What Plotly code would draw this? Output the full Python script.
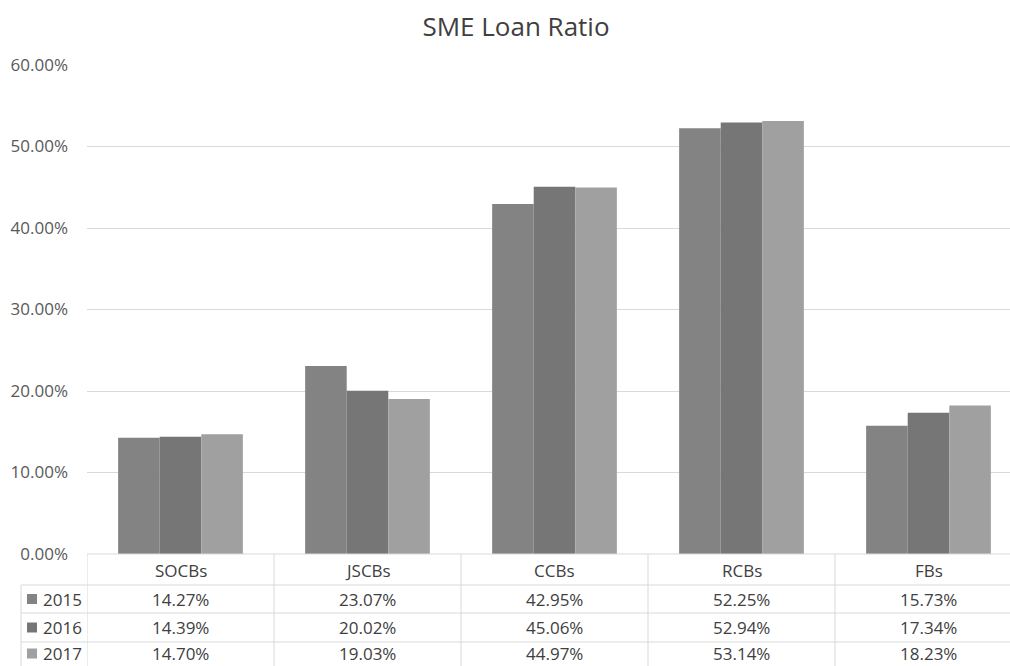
import plotly.graph_objects as go

categories = ["SOCBs", "JSCBs", "CCBs", "RCBs", "FBs"]
years = ["2015", "2016", "2017"]
v2015 = [14.27, 23.07, 42.95, 52.25, 15.73]
v2016 = [14.39, 20.02, 45.06, 52.94, 17.34]
v2017 = [14.70, 19.03, 44.97, 53.14, 18.23]
series = [v2015, v2016, v2017]
colors = ["#838383", "#767676", "#a0a0a0"]

W, H = 1010, 666
PL, PR, PT, PB = 87, 1010, 65, 554   # plot area in pixels
CAT_W = 187.0
FONT = "Open Sans"
TXT = "#404040"
GRID = "#d9d9d9"
FS = 17

def py(p):
    return (PB - p) / (PB - PT)

def px(p):
    return (p - PL) / (PR - PL)

fig = go.Figure()
for name, vals, c in zip(years, series, colors):
    fig.add_trace(go.Bar(x=categories, y=vals, name=name, marker=dict(color=c, line=dict(width=0)),
                         showlegend=False))

span = (PR - PL) / CAT_W
shapes = []
row_y = [585, 613, 642, 671]
shapes.append(dict(type="line", xref="paper", yref="paper", x0=0, x1=1.01, y0=py(PB), y1=py(PB),
                   line=dict(color=GRID, width=1)))
for ry in row_y:
    shapes.append(dict(type="line", xref="paper", yref="paper", x0=px(21), x1=1.01, y0=py(ry), y1=py(ry),
                       line=dict(color=GRID, width=1)))
for k in range(len(categories)):
    shapes.append(dict(type="line", xref="x", yref="paper", x0=-0.5 + k, x1=-0.5 + k, y0=py(PB), y1=py(671),
                       line=dict(color=GRID, width=1)))
shapes.append(dict(type="line", xref="paper", yref="paper", x0=px(21), x1=px(21), y0=py(585), y1=py(671),
                   line=dict(color=GRID, width=1)))

annotations = []
for cat in categories:
    annotations.append(dict(x=cat, xref="x", y=py(570), yref="paper", text=cat, showarrow=False,
                            font=dict(family=FONT, size=FS, color=TXT), xanchor="center", yanchor="middle"))
row_c = [599, 627.5, 653.5]
for yr, vals, c, rc in zip(years, series, colors, row_c):
    shapes.append(dict(type="rect", xref="paper", yref="paper", x0=px(27), x1=px(37), y0=py(rc - 5), y1=py(rc + 5),
                       fillcolor=c, line=dict(width=0)))
    annotations.append(dict(x=px(41), xref="paper", y=py(rc), yref="paper", text=yr, showarrow=False,
                            font=dict(family=FONT, size=FS, color=TXT), xanchor="left", yanchor="middle"))
    for cat, v in zip(categories, vals):
        annotations.append(dict(x=cat, xref="x", y=py(rc), yref="paper", text=f"{v:.2f}%", showarrow=False,
                                font=dict(family=FONT, size=FS, color=TXT), xanchor="center", yanchor="middle"))

fig.update_layout(
    width=W, height=H,
    margin=dict(l=PL, r=W - PR, t=PT, b=H - PB, pad=0),
    paper_bgcolor="white", plot_bgcolor="white",
    barmode="group", bargap=0.333, bargroupgap=0,
    title=dict(text="SME Loan Ratio", x=516 / W, xref="container", xanchor="center",
               y=1 - 27 / H, yref="container", yanchor="middle",
               font=dict(family=FONT, size=26, color=TXT)),
    xaxis=dict(range=[-0.5, -0.5 + span], showticklabels=False, showgrid=False, zeroline=False,
               showline=False, ticks=""),
    yaxis=dict(range=[0, 60], dtick=10, tickformat=".2f", ticksuffix="%", showgrid=True, gridcolor=GRID,
               gridwidth=1, zeroline=False, showline=False, ticks="", ticklabelstandoff=18,
               tickfont=dict(family=FONT, size=17, color="#595959")),
    shapes=shapes, annotations=annotations,
)
fig.write_html("out.html", config={"displayModeBar": False},
               post_script="document.body.style.margin='0';document.body.style.overflow='hidden';")
